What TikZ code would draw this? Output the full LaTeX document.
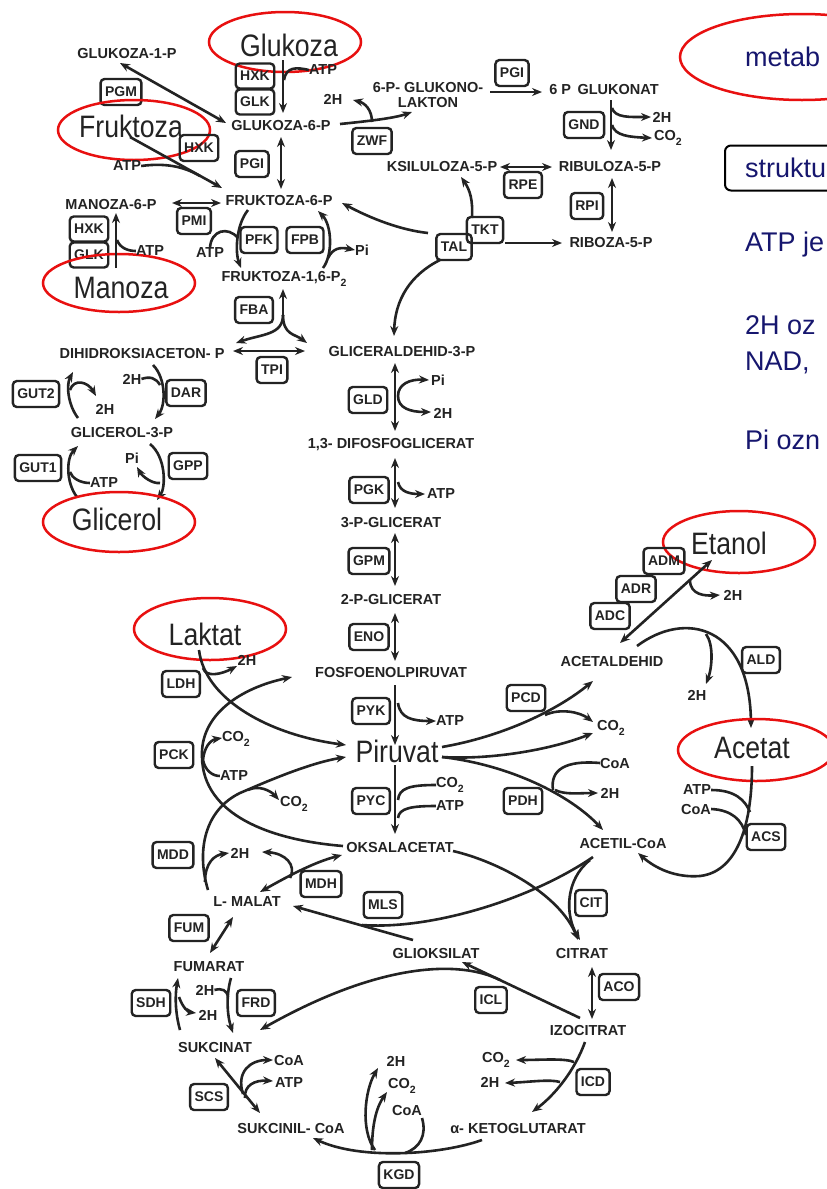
\documentclass[tikz,border=0pt]{standalone}
\usepackage{fontspec}
\setmainfont{Liberation Sans}
\newfontfamily\bigf[FakeStretch=0.86]{Liberation Sans}
\usetikzlibrary{arrows.meta}
\definecolor{ink}{RGB}{35,35,35}
\definecolor{ovred}{RGB}{232,16,16}
\definecolor{navy}{RGB}{22,22,110}
\newcommand\mysub[1]{\raisebox{-0.3em}{\fontsize{10.5}{10.5}\selectfont #1}}
\begin{document}
\begin{tikzpicture}[x=1pt,y=-1pt,
  met/.style={font=\bfseries\fontsize{14.5}{16}\selectfont, inner sep=0pt, text=ink},
  enz/.style={draw=ink, rounded corners=4pt, line width=2.4pt, font=\bfseries\fontsize{14}{15}\selectfont, minimum height=26pt, inner xsep=4.5pt, inner ysep=1pt, text=ink},
  big/.style={font=\bigf\fontsize{31}{31}\selectfont, inner sep=0pt, text=ink},
  ar/.style={draw=ink, line width=2.6pt, -{Stealth[length=10pt,width=8pt]}},
  dar/.style={draw=ink, line width=2.6pt, {Stealth[length=10pt,width=8pt]}-{Stealth[length=10pt,width=8pt]}},
  ln/.style={draw=ink, line width=2.6pt},
  rell/.style={draw=ovred, line width=2.5pt},
  slide/.style={font=\fontsize{27}{29}\selectfont, text=navy, anchor=west, inner sep=0pt}
]
\useasboundingbox (0,0) rectangle (827,1189);
\fill[white] (0,0) rectangle (827,1189);
\clip (0,0) rectangle (827,1189);

% ---------- slide text (right) ----------
\node[slide] (t1) at (745,57) {metab};
\draw[rell] (802,57) ellipse [x radius=122, y radius=43];
\node[draw=black, line width=2pt, rounded corners=6pt, anchor=west, minimum height=45pt, inner xsep=20pt, font=\fontsize{27}{29}\selectfont, text=navy] (t2) at (724,168) {struktu};
\node[slide] (t3) at (745,245) {ATP je};
\node[slide] (t4) at (745,325) {2H oz};
\node[slide] (t5) at (745,363) {NAD,};
\node[slide] (t6) at (745,440) {Pi ozn};

% ---------- glucose / fructose / mannose ----------
\node[big] (glc) at (289,45) {Glukoza};
\draw[rell] (285,42) ellipse [x radius=76, y radius=30];
\node[enz, minimum height=25pt] (hxk1) at (255,76) {HXK};
\node[enz, minimum height=25pt] (glk1) at (255,102) {GLK};
\node[met] (atp1) at (323,70) {ATP};
\node[met] (g6p) at (281,126) {GLUKOZA-6-P};
\draw[ar] (283,60) -- (283,113);
\draw[ln] (atp1.west) .. controls (296,67) and (286,67) .. (284,80);

\node[met] (g1p) at (127,54) {GLUKOZA-1-P};
\node[enz] (pgm) at (121,92) {PGM};
\draw[dar] (120,63) -- (226,123);

\node[big] (fru) at (131,126) {Fruktoza};
\draw[rell] (134,130) ellipse [x radius=76, y radius=30];
\node[enz] (hxk2) at (199,148) {HXK};
\node[met] (atp2) at (127,166) {ATP};
\node[met] (f6p) at (279,201) {FRUKTOZA-6-P};
\draw[ar] (130,137) -- (222,188);
\draw[ln] (atp2.east) .. controls (170,162) and (188,169) .. (200,176);

\node[enz] (pgi2) at (252,164) {PGI};
\draw[dar] (281,137) -- (281,189);

\node[met] (m6p) at (111,205) {MANOZA-6-P};
\node[enz] (pmi) at (194,221) {PMI};
\draw[dar] (172,203) -- (221,203);
\node[enz, minimum height=25pt] (hxk3) at (89,229) {HXK};
\node[enz, minimum height=25pt] (glk3) at (89,255) {GLK};
\node[big] (man) at (121,288) {Manoza};
\draw[rell] (119,283) ellipse [x radius=76, y radius=29];
\draw[ar] (116,268) -- (116,213);
\node[met] (atp3) at (150,251) {ATP};
\draw[ln] (atp3.west) .. controls (128,251) and (120,248) .. (117,240);

% ---------- PFK / FPB / FBA ----------
\node[enz] (pfk) at (259,240) {PFK};
\node[enz] (fpb) at (305,240) {FPB};
\node[met] (fbp) at (284,279) {FRUKTOZA-1,6-P\mysub{2}};
\draw[ar] (248,210) .. controls (236,225) and (235,252) .. (241,268);
\node[met] (atp4) at (210,253) {ATP};
\draw[ln] (atp4.north) .. controls (211,230) and (228,226) .. (238,238);
\draw[ar] (323,268) .. controls (333,255) and (332,225) .. (318,211);
\node[met] (pi1) at (362,250) {Pi};
\draw[ar] (328,258) .. controls (333,248) and (340,247) .. (pi1.west);

\node[enz] (fba) at (254,310) {FBA};
\draw[ar] (283,318) -- (283,289);
\draw[ar] (283,315) .. controls (283,335) and (262,334) .. (236,343);
\draw[ar] (283,315) .. controls (283,335) and (295,334) .. (307,343);
\node[met] (dhap) at (142,354) {DIHIDROKSIACETON- P};
\node[met] (gap) at (402,352) {GLICERALDEHID-3-P};
\draw[dar] (233,351) -- (305,351);
\node[enz] (tpi) at (272,370) {TPI};

% ---------- glycerol ----------
\node[met] (h2a) at (132,379) {2H};
\node[enz] (dar) at (186,393) {DAR};
\draw[ar] (153,365) .. controls (166,378) and (166,405) .. (155,419);
\draw[ln] (h2a.east) .. controls (150,376) and (156,378) .. (160,385);
\node[enz] (gut2) at (36,394) {GUT2};
\draw[ar] (78,418) .. controls (68,405) and (66,385) .. (73,372);
\node[met] (h2b) at (105,409) {2H};
\draw[ar] (70,390) .. controls (74,378) and (88,382) .. (96,396);
\node[met] (g3p) at (122,433) {GLICEROL-3-P};
\node[enz] (gut1) at (38,468) {GUT1};
\draw[ar] (77,497) .. controls (66,483) and (66,458) .. (78,446);
\node[met] (atp5) at (104,483) {ATP};
\draw[ln] (atp5.west) .. controls (80,483) and (72,478) .. (70,472);
\node[enz] (gpp) at (188,466) {GPP};
\draw[ar] (150,444) .. controls (166,457) and (166,487) .. (157,500);
\node[met] (pi2) at (132,458) {Pi};
\draw[ar] (160,483) .. controls (152,484) and (142,476) .. (137,467);
\node[big] (gly) at (117,519) {Glicerol};
\draw[rell] (119,522) ellipse [x radius=76, y radius=30];

% ---------- pentose phosphate ----------
\draw[ar] (340,124) .. controls (370,121) and (395,118) .. (412,112);
\node[met] (h2m) at (333,99) {2H};
\draw[ar] (372,122) .. controls (372,110) and (365,103) .. (353,100);
\node[enz] (zwf) at (372,141) {ZWF};
\node[met] (pgl1) at (428,88) {6-P- GLUKONO-};
\node[met] (pgl2) at (428,103) {LAKTON};
\node[enz] (pgi1) at (512,73) {PGI};
\draw[ar] (490,92) -- (542,92);
\node[met] (pgn) at (604,90) {6 P\, GLUKONAT};
\node[enz] (gnd) at (584,125) {GND};
\draw[ar] (611,100) -- (611,150);
\node[met] (h2n) at (662,117) {2H};
\node[met] (co2g) at (668,138) {CO\mysub{2}};
\draw[ar] (612,108) .. controls (615,118) and (630,117) .. (651,117);
\draw[ar] (612,125) .. controls (615,136) and (630,137) .. (652,138);
\node[met] (xu5p) at (442,167) {KSILULOZA-5-P};
\draw[dar] (500,167) -- (552,167);
\node[enz] (rpe) at (523,185) {RPE};
\node[met] (ru5p) at (610,167) {RIBULOZA-5-P};
\node[enz] (rpi) at (587,206) {RPI};
\draw[dar] (612,178) -- (612,232);
\node[met] (r5p) at (611,243) {RIBOZA-5-P};
\node[enz] (tkt) at (485,230) {TKT};
\node[enz] (tal) at (454,247) {TAL};
\draw[ar] (505,243) -- (562,243);
\draw[ar] (472,218) .. controls (473,200) and (470,190) .. (461,177);
\draw[ar] (428,233) .. controls (400,230) and (370,218) .. (342,203);
\draw[ar] (440,260) .. controls (410,275) and (395,300) .. (394,336);

% ---------- lower glycolysis ----------
\draw[dar] (395,363) -- (395,431);
\node[enz] (gld) at (368,400) {GLD};
\node[met] (pi3) at (438,380) {Pi};
\node[met] (h2c) at (443,413) {2H};
\draw[ar] (398,396) .. controls (398,384) and (410,379) .. (429,380);
\draw[ar] (398,396) .. controls (398,408) and (410,412) .. (431,412);
\node[met] (dpg) at (391,445) {1,3- DIFOSFOGLICERAT};
\draw[dar] (395,458) -- (395,508);
\node[enz] (pgk) at (369,490) {PGK};
\node[met] (atp6) at (441,494) {ATP};
\draw[ar] (398,482) .. controls (400,492) and (410,494) .. (425,494);
\node[met] (pg3) at (391,523) {3-P-GLICERAT};
\draw[dar] (395,533) -- (395,586);
\node[enz] (gpm) at (369,561) {GPM};
\node[met] (pg2) at (391,599) {2-P-GLICERAT};
\draw[dar] (395,613) -- (395,661);
\node[enz] (eno) at (369,637) {ENO};
\node[met] (pep) at (391,672) {FOSFOENOLPIRUVAT};
\draw[ar] (395,685) -- (395,745);
\node[enz] (pyk) at (371,711) {PYK};
\node[met] (atp7) at (450,721) {ATP};
\draw[ar] (398,703) .. controls (400,718) and (412,721) .. (436,721);
\node[big] (pyr) at (397,751) {Piruvat};
\draw[ar] (395,765) -- (395,834);
\node[enz] (pyc) at (371,801) {PYC};
\node[met] (co2a) at (450,785) {CO\mysub{2}};
\node[met] (atp8) at (450,806) {ATP};
\draw[ln] (co2a.west) .. controls (410,785) and (399,788) .. (398,800);
\draw[ln] (atp8.west) .. controls (412,806) and (399,808) .. (398,818);
\node[met] (oaa) at (400,847) {OKSALACETAT};

% ---------- lactate, PCK, MDD ----------
\node[big] (lac) at (205,634) {Laktat};
\draw[rell] (210,629) ellipse [x radius=76, y radius=31];
\node[enz] (ldh) at (181,684) {LDH};
\draw[ar] (199,650) .. controls (205,700) and (270,735) .. (346,745);
\node[met] (h2d) at (247,660) {2H};
\draw[ar] (203,668) .. controls (206,678) and (222,674) .. (237,666);
\draw[ar] (343,846) .. controls (270,840) and (203,815) .. (202,757) .. controls (200,715) and (240,688) .. (292,677);
\node[enz] (pck) at (174,755) {PCK};
\node[met] (co2b) at (236,739) {CO\mysub{2}};
\node[met] (atp9) at (234,776) {ATP};
\draw[ar] (203,760) .. controls (204,748) and (210,740) .. (222,738);
\draw[ln] (atp9.west) .. controls (212,776) and (205,770) .. (203,760);
\draw[ar] (208,890) .. controls (196,850) and (205,810) .. (240,793) .. controls (270,780) and (310,763) .. (346,757);
\node[met] (co2c) at (294,804) {CO\mysub{2}};
\draw[ar] (248,790) .. controls (258,785) and (270,790) .. (279,800);
\node[enz] (mdd) at (173,855) {MDD};
\node[met] (h2e) at (240,853) {2H};
\draw[ar] (205,882) .. controls (205,862) and (215,855) .. (229,853);
\node[met] (mal) at (247,902) {L- MALAT};
\draw[dar] (260,892) .. controls (290,875) and (315,862) .. (342,855);
\draw[ar] (290,878) .. controls (297,865) and (285,853) .. (262,852);
\node[enz] (mdh) at (321,884) {MDH};

% ---------- TCA / glyoxylate ----------
\node[met] (glx) at (436,953) {GLIOKSILAT};
\draw[ar] (413,940) -- (293,906);
\draw[ln] (593,857) .. controls (530,900) and (430,930) .. (362,925);
\node[enz] (mls) at (383,905) {MLS};
\draw[ar] (453,851) .. controls (500,862) and (560,895) .. (578,940);
\draw[ar] (590,860) .. controls (565,880) and (565,915) .. (580,940);
\node[enz] (cit) at (591,903) {CIT};
\node[met] (citr) at (582,953) {CITRAT};
\draw[dar] (592,967) -- (592,1019);
\node[enz] (aco) at (619,987) {ACO};
\node[met] (icit) at (588,1030) {IZOCITRAT};
\draw[ar] (580,1018) -- (462,962);
\node[enz] (icl) at (491,1000) {ICL};
\draw[ar] (500,980) .. controls (460,960) and (380,962) .. (260,1030);
\draw[ar] (585,1042) .. controls (575,1070) and (555,1095) .. (532,1112);
\node[enz] (icd) at (593,1082) {ICD};
\node[met] (co2d) at (496,1060) {CO\mysub{2}};
\node[met] (h2f) at (490,1082) {2H};
\draw[ar] (574,1062) .. controls (565,1058) and (540,1060) .. (516,1060);
\draw[ar] (560,1082) .. controls (550,1079) and (530,1082) .. (505,1083);
\node[met] (akg) at (518,1128) {α- KETOGLUTARAT};
\draw[ar] (482,1140) .. controls (440,1155) and (360,1160) .. (313,1138);
\node[enz] (kgd) at (399,1175) {KGD};
\node[met] (h2g) at (396,1061) {2H};
\node[met] (co2e) at (402,1086) {CO\mysub{2}};
\node[met] (coa1) at (407,1110) {CoA};
\draw[ar] (375,1150) .. controls (360,1130) and (365,1090) .. (378,1068);
\draw[ar] (372,1150) .. controls (372,1120) and (378,1105) .. (387,1092);
\draw[ln] (422,1118) .. controls (427,1135) and (420,1148) .. (405,1153);
\node[met] (sca) at (291,1128) {SUKCINIL- CoA};
\draw[dar] (260,1113) -- (215,1058);
\node[enz] (scs) at (209,1097) {SCS};
\node[met] (coa2) at (289,1060) {CoA};
\node[met] (atp10) at (289,1082) {ATP};
\draw[ar] (243,1094) .. controls (236,1072) and (250,1060) .. (273,1060);
\draw[ar] (245,1098) .. controls (244,1085) and (255,1080) .. (273,1081);
\node[met] (suc) at (215,1047) {SUKCINAT};
\node[met] (fum) at (209,967) {FUMARAT};
\draw[dar] (210,953) -- (233,917);
\node[enz] (fumb) at (189,928) {FUM};
\draw[ar] (180,1030) .. controls (175,1012) and (175,995) .. (178,978);
\node[met] (h2h) at (205,990) {2H};
\node[met] (h2i) at (208,1015) {2H};
\draw[ar] (179,997) .. controls (183,1008) and (188,1012) .. (196,1013);
\draw[ar] (231,978) .. controls (226,995) and (227,1015) .. (233,1033);
\draw[ln] (h2h.east) .. controls (222,988) and (227,990) .. (228,997);
\node[enz] (sdh) at (151,1003) {SDH};
\node[enz] (frd) at (256,1003) {FRD};

% ---------- ethanol / acetate ----------
\node[big] (eth) at (729,543) {Etanol};
\draw[rell] (739,542) ellipse [x radius=76, y radius=31];
\node[enz] (adm) at (664,561) {ADM};
\node[enz] (adr) at (636,589) {ADR};
\node[enz] (adc) at (610,616) {ADC};
\draw[dar] (712,560) -- (620,643);
\node[met] (h2j) at (733,595) {2H};
\draw[ar] (690,580) .. controls (690,595) and (705,596) .. (720,595);
\node[met] (acald) at (612,661) {ACETALDEHID};
\draw[ar] (637,646) .. controls (685,610) and (750,625) .. (751,728);
\draw[ar] (706,634) .. controls (714,645) and (712,668) .. (706,684);
\node[met] (h2k) at (697,695) {2H};
\node[enz] (ald) at (761,660) {ALD};
\node[big] (ace) at (752,748) {Acetat};
\draw[rell] (756,750) ellipse [x radius=78, y radius=31];
\draw[ar] (752,766) .. controls (752,830) and (735,872) .. (700,876) .. controls (675,878) and (655,868) .. (638,853);
\node[met] (atp11) at (697,790) {ATP};
\node[met] (coa3) at (696,809) {CoA};
\draw[ln] (atp11.east) .. controls (735,790) and (745,800) .. (750,812);
\draw[ln] (coa3.east) .. controls (732,810) and (742,820) .. (746,835);
\node[enz] (acs) at (766,837) {ACS};
\node[met] (acoa) at (623,843) {ACETIL-CoA};

% ---------- PCD / PDH ----------
\node[enz] (pcd) at (526,698) {PCD};
\draw[ar] (442,747) .. controls (500,737) and (555,712) .. (593,681);
\node[met] (co2f) at (611,728) {CO\mysub{2}};
\draw[ar] (545,715) .. controls (560,708) and (580,712) .. (593,722);
\draw[ar] (442,757) .. controls (490,760) and (550,750) .. (593,733);
\draw[ar] (442,757) .. controls (510,765) and (570,795) .. (603,830);
\node[met] (coa4) at (615,763) {CoA};
\node[met] (h2l) at (610,793) {2H};
\draw[ln] (coa4.west) .. controls (565,760) and (550,770) .. (553,790);
\draw[ar] (555,790) .. controls (565,795) and (580,793) .. (598,793);
\node[enz] (pdh) at (523,801) {PDH};
\end{tikzpicture}
\end{document}
